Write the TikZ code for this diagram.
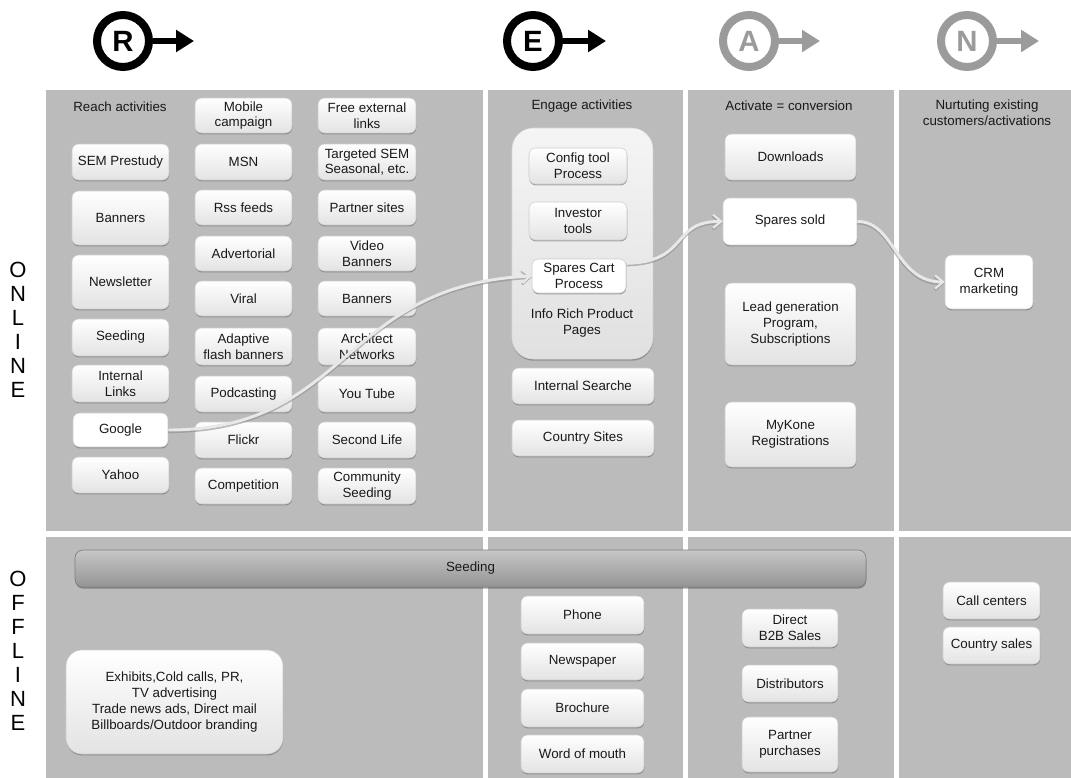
\documentclass[tikz,border=0pt]{standalone}
\usepackage{fontspec}
\setmainfont{Liberation Sans}
\usetikzlibrary{shadows,arrows.meta}
\definecolor{panel}{RGB}{186,187,186}
\definecolor{txt}{RGB}{25,25,25}
\definecolor{icongray}{RGB}{155,155,155}
\definecolor{connc}{RGB}{232,232,232}
\tikzset{
  every node/.style={font=\fontsize{10}{11.8}\selectfont, text=txt},
  box/.style={draw=black!20, line width=0.4pt, rounded corners=5pt,
    top color=white, bottom color=black!11, inner sep=0pt, align=center,
    drop shadow={shadow xshift=0.2pt, shadow yshift=-1.1pt, opacity=0.55, fill=black!60}},
  wbox/.style={box, top color=white, bottom color=white},
  bigbox/.style={box, rounded corners=12pt},
  container/.style={draw=black!15, line width=0.4pt, rounded corners=16pt,
    top color=black!4, bottom color=black!12, inner sep=0pt,
    drop shadow={shadow xshift=0.2pt, shadow yshift=-1.3pt, opacity=0.5, fill=black!60}},
  bar/.style={draw=black!50, line width=0.5pt, rounded corners=6pt,
    top color=black!22, bottom color=black!42, inner sep=0pt,
    drop shadow={shadow xshift=0.2pt, shadow yshift=-1.2pt, opacity=0.5, fill=black!70}},
  label/.style={align=center, inner sep=0pt},
  side/.style={align=center, inner sep=0pt, font=\fontsize{16.5}{18}\selectfont, text=black},
  icon/.style={circle, line width=6pt, minimum size=39pt, inner sep=0pt,
    font=\fontsize{22}{22}\selectfont\bfseries},
  iconarrow/.style={line width=4.2pt, -{Triangle[length=13.5pt,width=16pt]}},
  conn/.style={line width=2.2pt, draw=connc,
    -{Straight Barb[length=6pt,width=10pt,line width=1.6pt]},
    preaction={draw=black!45, line width=2.8pt, opacity=0.6,
      -{Straight Barb[length=6pt,width=10pt,line width=2pt]},
      transform canvas={yshift=-0.9pt}}},
}
% \mybox[style]{x1}{y1}{x2}{y2}{name} {text};
\newcommand\mybox[6][box]{\node[#1, minimum width={(#4-#2)*0.75pt},
  minimum height={(#5-#3)*0.75pt}] (#6) at ({(#2+#4)/2},{(#3+#5)/2})}
\begin{document}
\begin{tikzpicture}[x=0.75pt, y=-0.75pt]
\useasboundingbox (0,0) rectangle (1071,778);
\fill[white] (0,0) rectangle (1071,778);

% panels
\fill[panel] (46,90) rectangle (483,531);
\fill[panel] (488,90) rectangle (683,531);
\fill[panel] (688,90) rectangle (894,531);
\fill[panel] (899,90) rectangle (1071,531);
\fill[panel] (46,537) rectangle (483,778);
\fill[panel] (488,537) rectangle (683,778);
\fill[panel] (688,537) rectangle (894,778);
\fill[panel] (899,537) rectangle (1071,778);

% header icons
\node[icon, draw=black, text=black] (ri) at (123,41) {R};
\draw[iconarrow, black] (ri.east) -- (194,41);
\node[icon, draw=black, text=black] (ei) at (533,41) {E};
\draw[iconarrow, black] (ei.east) -- (606,41);
\node[icon, draw=icongray, text=icongray] (ai) at (749,41) {A};
\draw[iconarrow, icongray] (ai.east) -- (820,41);
\node[icon, draw=icongray, text=icongray] (ni) at (967,41) {N};
\draw[iconarrow, icongray] (ni.east) -- (1039,41);

% side labels
\node[side] (online) at (18,330) {O\\N\\L\\I\\N\\E};
\node[side] (offline) at (18,651) {O\\F\\F\\L\\I\\N\\E};

% column titles
\node[label] (reacht) at (120,107) {Reach activities};
\node[label] (engaget) at (582,106) {Engage activities};
\node[label] (activt) at (789,106) {Activate = conversion};
\node[label] (nurtt) at (987,113) {Nurtuting existing\\customers/activations};

% Reach column 1
\mybox{72}{144}{169}{180}{sem} {SEM Prestudy};
\mybox{72}{191}{169}{245}{ban1} {Banners};
\mybox{72}{255}{169}{309}{news} {Newsletter};
\mybox{72}{319}{169}{356}{seed} {Seeding};
\mybox{72}{365}{169}{402}{intl} {Internal\\Links};
\mybox[wbox]{73}{413}{168}{447}{google} {Google};
\mybox{72}{457}{169}{493}{yahoo} {Yahoo};

% Reach column 2
\mybox{195}{98}{292}{133}{mobile} {Mobile\\campaign};
\mybox{195}{144}{292}{180}{msn} {MSN};
\mybox{195}{190}{292}{225}{rss} {Rss feeds};
\mybox{195}{236}{292}{271}{advert} {Advertorial};
\mybox{195}{281}{292}{316}{viral} {Viral};
\mybox{195}{328}{292}{365}{adapt} {Adaptive\\flash banners};
\mybox{195}{376}{292}{412}{podcast} {Podcasting};
\mybox{195}{422}{292}{458}{flickr} {Flickr};
\mybox{195}{468}{292}{504}{compet} {Competition};

% Reach column 3
\mybox{318}{98}{416}{133}{free} {Free external\\links};
\mybox{318}{144}{416}{180}{target} {Targeted SEM\\Seasonal, etc.};
\mybox{318}{190}{416}{225}{partner} {Partner sites};
\mybox{318}{236}{416}{271}{video} {Video\\Banners};
\mybox{318}{281}{416}{316}{ban2} {Banners};
\mybox{318}{328}{416}{365}{arch} {Architect\\Networks};
\mybox{318}{376}{416}{412}{youtube} {You Tube};
\mybox{318}{422}{416}{458}{second} {Second Life};
\mybox{318}{468}{416}{504}{commun} {Community\\Seeding};

% Engage
\mybox[container]{512}{128}{653}{359}{engage} {};
\mybox{529}{148}{627}{184}{config} {Config tool\\Process};
\mybox{529}{202}{627}{240}{investor} {Investor\\tools};
\mybox[wbox]{532}{259}{626}{293}{cart} {Spares Cart\\Process};
\node[label] (inforich) at (582,323) {Info Rich Product\\Pages};
\mybox{512}{368}{654}{404}{intsearch} {Internal Searche};
\mybox{512}{420}{654}{456}{country} {Country Sites};

% Activate
\mybox{725}{134}{856}{180}{downloads} {Downloads};
\mybox[wbox]{723}{198}{857}{245}{sold} {Spares sold};
\mybox{725}{283}{856}{365}{lead} {Lead generation\\Program,\\Subscriptions};
\mybox{725}{402}{856}{467}{mykone} {MyKone\\Registrations};

% Nurture
\mybox[wbox]{945}{255}{1033}{309}{crm} {CRM\\marketing};

% Offline
\mybox[bar]{75}{550}{866}{587}{seedbar} {Seeding};
\mybox[bigbox]{66}{650}{283}{754}{exhibits} {Exhibits,Cold calls, PR,\\TV advertising\\Trade news ads, Direct mail\\Billboards/Outdoor branding};
\mybox{521}{596}{644}{634}{phone} {Phone};
\mybox{521}{643}{644}{680}{newsp} {Newspaper};
\mybox{521}{689}{644}{727}{broch} {Brochure};
\mybox{521}{735}{644}{773}{wom} {Word of mouth};
\mybox{742}{609}{838}{647}{direct} {Direct\\B2B Sales};
\mybox{742}{665}{838}{702}{distrib} {Distributors};
\mybox{742}{717}{838}{772}{ppurch} {Partner\\purchases};
\mybox{943}{582}{1040}{619}{callc} {Call centers};
\mybox{943}{627}{1040}{664}{csales} {Country sales};

% connectors
\draw[conn] (google.east) .. controls (350,430) and (340,285) .. (cart.west);
\draw[conn] (cart.15) .. controls (690,262) and (670,221) .. (sold.west);
\draw[conn] (sold.east) .. controls (895,221) and (895,282) .. (crm.west);
\end{tikzpicture}
\end{document}
